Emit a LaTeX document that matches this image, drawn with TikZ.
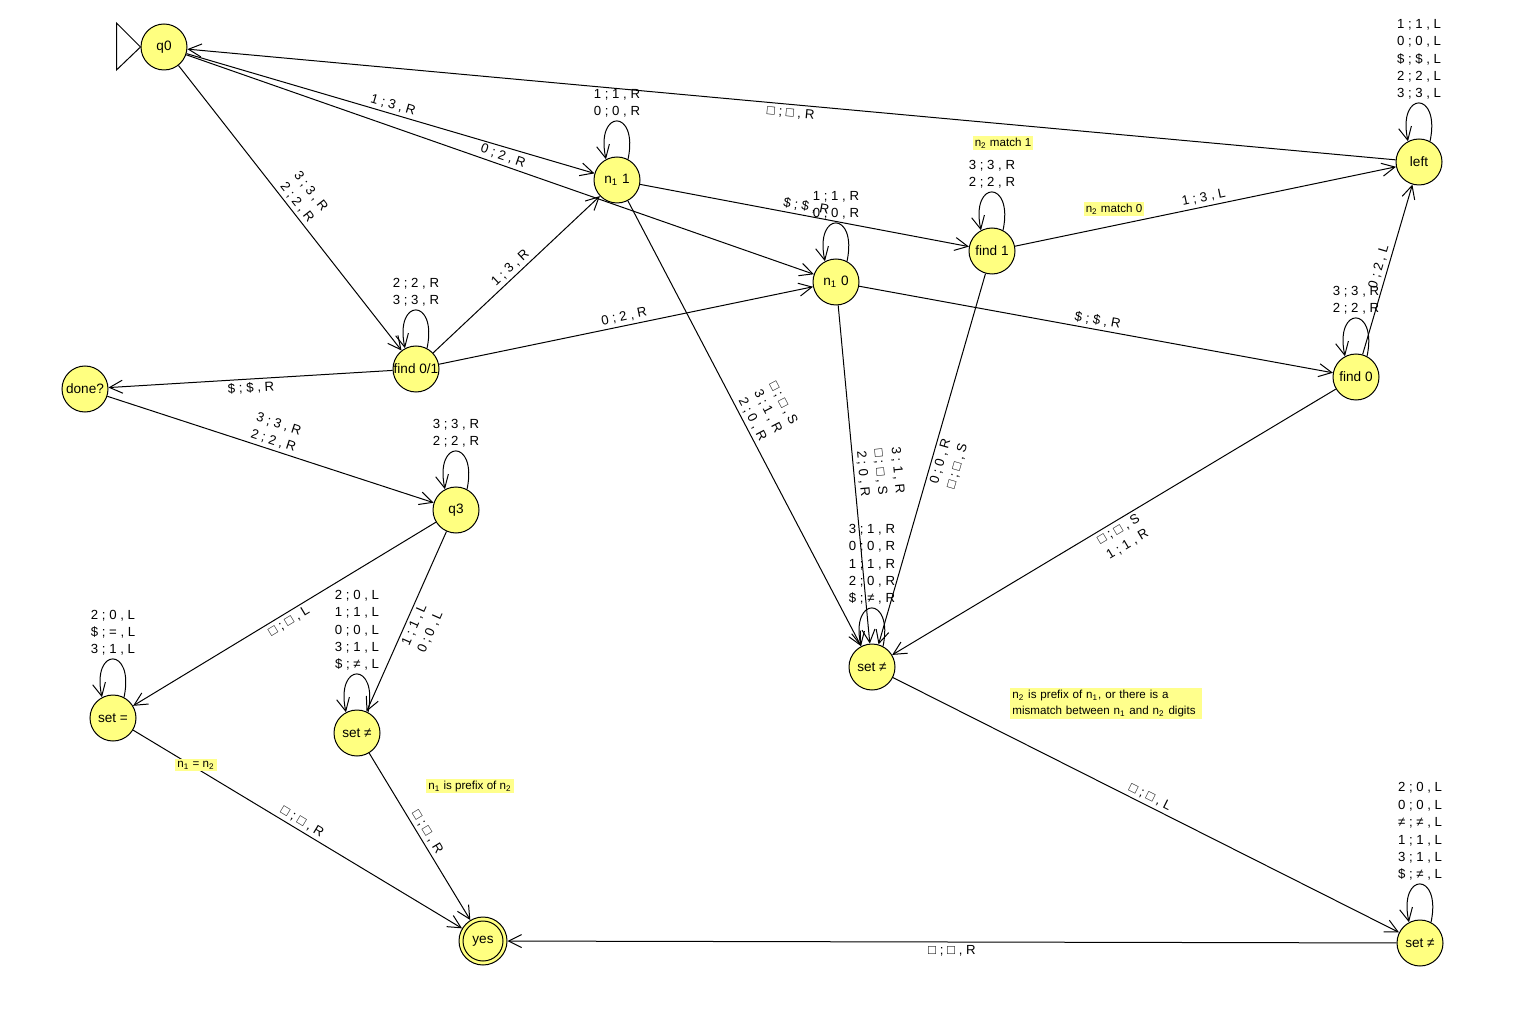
\documentclass[tikz,border=0pt]{standalone}
\usepackage{fontspec}
\setmainfont{Liberation Sans}
\usetikzlibrary{arrows.meta}
\definecolor{stfill}{RGB}{255,255,128}
\definecolor{notefill}{RGB}{255,255,140}
\begin{document}
\begin{tikzpicture}[x=0.5pt,y=0.5pt,
 st/.style={circle,draw,line width=0.5pt,fill=stfill,minimum size=23pt,inner sep=0pt,font=\fontsize{6.8}{8}\selectfont},
 tr/.style={-{Straight Barb[length=6.5pt,width=6.5pt]},line width=0.5pt},
 lbl/.style={font=\fontsize{6.6}{8.7}\selectfont,align=center,inner sep=1.5pt},
 el/.style={lbl,sloped,pos=0.5},
 note/.style={fill=notefill,font=\fontsize{5.8}{7.9}\selectfont,inner sep=1pt,align=left}]
\useasboundingbox (0,0) rectangle (1530,-1026);
% states
\node[st] (q0) at (164,-47) {q0};
\node[st] (n11) at (617,-180) {n\textsubscript{1} 1};
\node[st] (n10) at (836,-282) {n\textsubscript{1} 0};
\node[st] (f1) at (992,-251) {find 1};
\node[st] (left) at (1419,-162) {left};
\node[st] (f01) at (416,-369) {find 0/1};
\node[st] (done) at (85,-389) {done?};
\node[st] (q3) at (456,-510) {q3};
\node[st] (f0) at (1356,-377) {find 0};
\node[st] (sm) at (872,-667) {set ≠};
\node[st] (seq) at (113,-718) {set =};
\node[st] (snl) at (357,-733) {set ≠};
\node[st,minimum size=24pt] (yes) at (483,-941) {};
\draw[line width=0.5pt] (yes.center) circle (10pt);
\node[font=\fontsize{6.8}{8}\selectfont] (yest) at (yes.center) {yes};
\node[st] (sr) at (1420,-943) {set ≠};
% start marker
\draw[line width=0.5pt] (q0.west) -- ++(-24,24) -- ++(0,-47) -- cycle;
% transitions
\draw[tr] (q0) -- node[el,above] {1 ; 3 , R} (n11);
\draw[tr] (q0) -- node[el,above] {0 ; 2 , R} (n10);
\draw[tr] (left) -- node[el,below] {□ ; □ , R} (q0);
\draw[tr] (q0) -- node[el,above] {3 ; 3 , R\\2 ; 2 , R} (f01);
\draw[tr] (f01.62) .. controls +(78:26pt) and +(102:26pt) .. node[lbl,above] {2 ; 2 , R\\3 ; 3 , R} (f01.118);
\draw[tr] (f01) -- node[el,above] {1 ; 3 , R} (n11);
\draw[tr] (f01) -- node[el,above] {0 ; 2 , R} (n10);
\draw[tr] (f01) -- node[el,below] {\$ ; \$ , R} (done);
\draw[tr] (done) -- node[el,above] {3 ; 3 , R\\2 ; 2 , R} (q3);
\draw[tr] (q3.62) .. controls +(78:26pt) and +(102:26pt) .. node[lbl,above] {3 ; 3 , R\\2 ; 2 , R} (q3.118);
\draw[tr] (q3) -- node[el,below] {□ ; □ , L} (seq);
\draw[tr] (q3) -- node[el,below] {1 ; 1 , L\\0 ; 0 , L} (snl);
\draw[tr] (seq.62) .. controls +(78:26pt) and +(102:26pt) .. node[lbl,above] {2 ; 0 , L\\\$ ; = , L\\3 ; 1 , L} (seq.118);
\draw[tr] (snl.62) .. controls +(78:26pt) and +(102:26pt) .. node[lbl,above] {2 ; 0 , L\\1 ; 1 , L\\0 ; 0 , L\\3 ; 1 , L\\\$ ; ≠ , L} (snl.118);
\draw[tr] (seq) -- node[el,above] {□ ; □ , R} (yes);
\draw[tr] (snl) -- node[el,above] {□ ; □ , R} (yes);
\draw[tr] (sr) -- node[el,below] {□ ; □ , R} (yes);
\draw[tr] (sr.62) .. controls +(78:26pt) and +(102:26pt) .. node[lbl,above] {2 ; 0 , L\\0 ; 0 , L\\≠ ; ≠ , L\\1 ; 1 , L\\3 ; 1 , L\\\$ ; ≠ , L} (sr.118);
\draw[tr] (sm) -- node[el,above] {□ ; □ , L} (sr);
\draw[tr] (sm.62) .. controls +(78:26pt) and +(102:26pt) .. node[lbl,above] {3 ; 1 , R\\0 ; 0 , R\\1 ; 1 , R\\2 ; 0 , R\\\$ ; ≠ , R} (sm.118);
\draw[tr] (f0) -- node[el,below] {□ ; □ , S\\1 ; 1 , R} (sm);
\draw[tr] (n10) -- node[el,above] {\$ ; \$ , R} (f0);
\draw[tr] (f0) -- node[el,above] {0 ; 2 , L} (left);
\draw[tr] (f0.62) .. controls +(78:26pt) and +(102:26pt) .. node[lbl,above] {3 ; 3 , R\\2 ; 2 , R} (f0.118);
\draw[tr] (f1) -- node[el,above] {1 ; 3 , L} (left);
\draw[tr] (f1.62) .. controls +(78:26pt) and +(102:26pt) .. node[lbl,above] {3 ; 3 , R\\2 ; 2 , R} (f1.118);
\draw[tr] (left.62) .. controls +(78:26pt) and +(102:26pt) .. node[lbl,above] {1 ; 1 , L\\0 ; 0 , L\\\$ ; \$ , L\\2 ; 2 , L\\3 ; 3 , L} (left.118);
\draw[tr] (n11.62) .. controls +(78:26pt) and +(102:26pt) .. node[lbl,above] {1 ; 1 , R\\0 ; 0 , R} (n11.118);
\draw[tr] (n10.62) .. controls +(78:26pt) and +(102:26pt) .. node[lbl,above] {1 ; 1 , R\\0 ; 0 , R} (n10.118);
\draw[tr] (n11) -- node[el,above] {\$ ; \$ , R} (f1);
\draw[tr] (n11) -- node[el,above] {□ ; □ , S\\3 ; 1 , R\\2 ; 0 , R} (sm);
\draw[tr] (n10) -- node[el,above] {3 ; 1 , R\\□ ; □ , S\\2 ; 0 , R} (sm);
\draw[tr] (f1) -- node[el,below] {0 ; 0 , R\\□ ; □ , S} (sm);
% notes
\node[note] (nm1) at (1003,-143) {n\textsubscript{2} match 1};
\node[note] (nm0) at (1114,-209) {n\textsubscript{2} match 0};
\node[note,anchor=north west,text width=94pt] (npre) at (1010,-688) {n\textsubscript{2} is prefix of n\textsubscript{1}, or there is a\\mismatch between n\textsubscript{1} and n\textsubscript{2} digits};
\node[note] (neq) at (196,-765) {n\textsubscript{1} = n\textsubscript{2}};
\node[note] (npf) at (470,-786) {n\textsubscript{1} is prefix of n\textsubscript{2}};
\end{tikzpicture}
\end{document}
